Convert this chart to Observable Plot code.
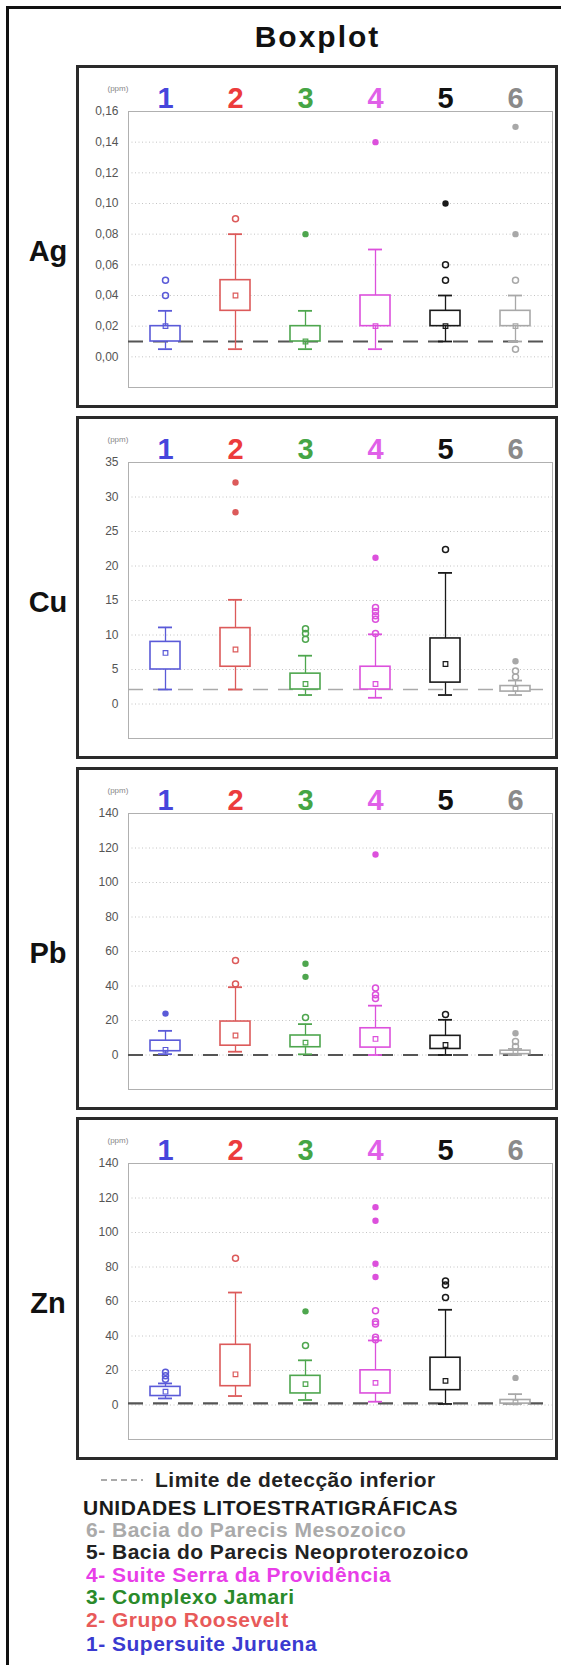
<!DOCTYPE html>
<html><head><meta charset="utf-8">
<script src="https://cdn.jsdelivr.net/npm/d3@7"></script>
<script src="https://cdn.jsdelivr.net/npm/@observablehq/plot@0.6"></script>
<style>
html,body{margin:0;padding:0;background:#fff;width:561px;height:1665px;overflow:hidden;font-family:"Liberation Sans",Arial,Helvetica,sans-serif;}
#outer{position:absolute;left:6px;top:6px;width:620px;height:1740px;border:3px solid #111;box-sizing:border-box;}
#title{position:absolute;left:77px;width:481px;top:22px;line-height:30px;text-align:center;font-size:30px;font-weight:bold;letter-spacing:2px;color:#111;}
.frame{position:absolute;left:76px;width:482px;height:343px;border:3px solid #2a2a2a;box-sizing:border-box;background:#fff;}
.frame svg{position:absolute;left:0;top:0;}
.elem{position:absolute;left:0;width:96px;text-align:center;font-size:29px;font-weight:bold;line-height:30px;color:#111;}
.leg{position:absolute;font-size:21px;font-weight:bold;line-height:22px;white-space:nowrap;letter-spacing:0.5px;}
</style></head><body>
<div id="outer"></div>
<div id="title">Boxplot</div>
<div id="panels"></div>
<div id="legend"></div>
<script>
// ---------- data ----------
const units = ["1", "2", "3", "4", "5", "6"];
const unitColors = ["#4646dc", "#ec3c3c", "#45a545", "#e060e8", "#111111", "#8a8a8a"];
const boxColors = ["#5a5ad8", "#dc5a5a", "#4ea64e", "#dc50dc", "#1a1a1a", "#a8a8a8"];
const unitNames = ["Supersuite Juruena", "Grupo Roosevelt", "Complexo Jamari", "Suite Serra da Providência", "Bacia do Parecis Neoproterozoico", "Bacia do Parecis Mesozoico"];
const legendColors = ["#3a3ad0", "#e85a5a", "#2a8a2a", "#e83ee8", "#222222", "#aaaaaa"];
const legendTitle = "UNIDADES LITOESTRATIGRÁFICAS";
const limitLabel = "Limite de detecção inferior";
const elements = ["Ag", "Cu", "Pb", "Zn"];

// Ag (ppm)
const agTicks = [0, 0.02, 0.04, 0.06, 0.08, 0.10, 0.12, 0.14, 0.16];
const agLow = [0.005, 0.005, 0.005, 0.005, 0.01, 0.01];
const agQ1 = [0.01, 0.03, 0.01, 0.02, 0.02, 0.02];
const agMed = [0.02, 0.04, 0.01, 0.02, 0.02, 0.02];
const agQ3 = [0.02, 0.05, 0.02, 0.04, 0.03, 0.03];
const agHigh = [0.03, 0.08, 0.03, 0.07, 0.04, 0.04];
const agOutliers = [[0.04, 0.05], [0.09], [], [], [0.05, 0.06], [0.05, 0.005]];
const agExtremes = [[], [], [0.08], [0.14], [0.10], [0.08, 0.15]];
const agLimit = 0.01;

// Cu (ppm)
const cuTicks = [0, 5, 10, 15, 20, 25, 30, 35];
const cuLow = [2.1, 2.1, 1.3, 0.9, 1.3, 1.3];
const cuQ1 = [5.0, 5.4, 2.1, 2.1, 3.1, 1.8];
const cuMed = [7.4, 7.9, 2.9, 2.9, 5.8, 2.2];
const cuQ3 = [9.0, 11.0, 4.4, 5.4, 9.5, 2.6];
const cuHigh = [11.1, 15.1, 7.0, 10.1, 19.0, 3.4];
const cuOutliers = [[], [], [9.4, 10.2, 10.9], [10.2, 12.3, 12.8, 13.4, 14.0], [22.4], [3.9, 4.8]];
const cuExtremes = [[], [27.8, 32.1], [], [21.2], [], [6.2]];
const cuLimit = 2.1;

// Pb (ppm)
const pbTicks = [0, 20, 40, 60, 80, 100, 120, 140];
const pbLow = [0.5, 1.9, 0.4, 0, 0, 0];
const pbQ1 = [2.2, 5.4, 4.5, 4.3, 3.5, 0.5];
const pbMed = [3.0, 11.3, 7.2, 9.3, 5.8, 1.5];
const pbQ3 = [8.3, 19.4, 11.3, 15.5, 11.1, 2.5];
const pbHigh = [14.0, 39.3, 17.9, 28.6, 20.4, 3.5];
const pbOutliers = [[], [41.2, 54.8], [21.8], [32.7, 35.0, 38.9], [23.5], [4.9, 7.8]];
const pbExtremes = [[24.0], [], [45.3, 52.9], [116.2], [], [12.6]];
const pbLimit = 0;

// Zn (ppm)
const znTicks = [0, 20, 40, 60, 80, 100, 120, 140];
const znLow = [3.8, 5.2, 2.9, 1.9, 0.6, 0.6];
const znQ1 = [5.2, 10.9, 6.7, 6.7, 8.6, 0.8];
const znMed = [7.7, 17.8, 12.1, 12.8, 14.0, 1.5];
const znQ3 = [10.5, 34.9, 16.9, 20.1, 27.4, 2.9];
const znHigh = [12.5, 65.2, 25.9, 37.4, 55.2, 6.3];
const znOutliers = [[15, 17, 19], [85.1], [34.5], [37.8, 39.3, 47.0, 48.3, 54.6], [62.3, 69.6, 71.9], []];
const znExtremes = [[], [], [54.3], [74.2, 81.9, 106.8, 114.7], [], [15.7]];
const znLimit = 1;

// ---------- panels ----------
const panelCfg = [
  {name: "Ag", top: 65, domain: [-0.02, 0.16], ticks: agTicks, fmt: d => d.toFixed(2).replace(".", ","), low: agLow, q1: agQ1, med: agMed, q3: agQ3, high: agHigh, outliers: agOutliers, extremes: agExtremes, limit: agLimit, limStroke: "#555", limWidth: 2.2},
  {name: "Cu", top: 416, domain: [-5, 35], ticks: cuTicks, fmt: d => String(d), low: cuLow, q1: cuQ1, med: cuMed, q3: cuQ3, high: cuHigh, outliers: cuOutliers, extremes: cuExtremes, limit: cuLimit, limStroke: "#aaa", limWidth: 1.5},
  {name: "Pb", top: 767, domain: [-20, 140], ticks: pbTicks, fmt: d => String(d), low: pbLow, q1: pbQ1, med: pbMed, q3: pbQ3, high: pbHigh, outliers: pbOutliers, extremes: pbExtremes, limit: pbLimit, limStroke: "#555", limWidth: 2.2},
  {name: "Zn", top: 1117, domain: [-20, 140], ticks: znTicks, fmt: d => String(d), low: znLow, q1: znQ1, med: znMed, q3: znQ3, high: znHigh, outliers: znOutliers, extremes: znExtremes, limit: znLimit, limStroke: "#555", limWidth: 2.2}
];

const FONT = '"Liberation Sans", Arial, sans-serif';

function makePanel(cfg) {
  const rows = units.map((u, i) => ({unit: u, low: cfg.low[i], q1: cfg.q1[i], med: cfg.med[i], q3: cfg.q3[i], high: cfg.high[i], c: boxColors[i]}));
  const outl = units.flatMap((u, i) => cfg.outliers[i].map(v => ({unit: u, v, c: boxColors[i]})));
  const ext = units.flatMap((u, i) => cfg.extremes[i].map(v => ({unit: u, v, c: boxColors[i]})));
  return Plot.plot({
    width: 476, height: 337,
    marginLeft: 49, marginRight: 3, marginTop: 43, marginBottom: 18,
    x: {type: "band", domain: units, padding: 0, axis: null, label: null},
    y: {domain: cfg.domain, label: null},
    color: {type: "identity"},
    style: {fontFamily: FONT, background: "transparent", overflow: "visible"},
    marks: [
      Plot.gridY(cfg.ticks, {stroke: "#c4c4c4", strokeOpacity: 1, strokeDasharray: "1,2.5"}),
      Plot.frame({stroke: "#b0b0b0"}),
      Plot.axisY(cfg.ticks, {tickSize: 0, tickPadding: 10, tickFormat: cfg.fmt, fill: "#555", fontSize: 12, label: null}),
      Plot.ruleY([cfg.limit], {stroke: cfg.limStroke, strokeWidth: cfg.limWidth, strokeDasharray: "15,10"}),
      Plot.ruleX(rows, {x: "unit", y1: "low", y2: "q1", stroke: "c", strokeWidth: 1.3}),
      Plot.ruleX(rows, {x: "unit", y1: "q3", y2: "high", stroke: "c", strokeWidth: 1.3}),
      Plot.barY(rows, {x: "unit", y1: "q1", y2: "q3", fill: "white", stroke: "c", strokeWidth: 1.6, insetLeft: 20, insetRight: 20}),
      Plot.tickY(rows, {x: "unit", y: "low", stroke: "c", strokeWidth: 1.8, insetLeft: 28, insetRight: 28}),
      Plot.tickY(rows, {x: "unit", y: "high", stroke: "c", strokeWidth: 1.8, insetLeft: 28, insetRight: 28}),
      Plot.dot(rows, {x: "unit", y: "med", symbol: "square", r: 2.6, stroke: "c", strokeWidth: 1.2, fill: "none"}),
      Plot.dot(outl, {x: "unit", y: "v", r: 3, stroke: "c", strokeWidth: 1.5, fill: "none"}),
      Plot.dot(ext, {x: "unit", y: "v", r: 3.2, fill: "c", stroke: "none"}),
      Plot.text(units, {x: d => d, text: d => d, frameAnchor: "top", dy: -4, lineAnchor: "bottom", fill: (d, i) => unitColors[i], fontSize: 29, fontWeight: "bold"}),
      Plot.text(["(ppm)"], {text: d => d, frameAnchor: "top-left", dx: -21, dy: -26, fontSize: 8, fill: "#888"})
    ]
  });
}

const panelsDiv = document.getElementById("panels");
panelCfg.forEach(cfg => {
  const f = document.createElement("div");
  f.className = "frame";
  f.style.top = cfg.top + "px";
  f.appendChild(makePanel(cfg));
  panelsDiv.appendChild(f);
  const e = document.createElement("div");
  e.className = "elem";
  e.style.top = (cfg.top + 186 - 15) + "px";
  e.textContent = cfg.name;
  panelsDiv.appendChild(e);
});

// ---------- legend ----------
const leg = document.getElementById("legend");
function legLine(text, left, cy, color) {
  const d = document.createElement("div");
  d.className = "leg";
  d.style.left = left + "px";
  d.style.top = (cy - 11) + "px";
  d.style.color = color;
  d.textContent = text;
  leg.appendChild(d);
}
const ns = "http://www.w3.org/2000/svg";
const sv = document.createElementNS(ns, "svg");
sv.setAttribute("width", 44); sv.setAttribute("height", 6);
sv.style.position = "absolute"; sv.style.left = "101px"; sv.style.top = "1477px";
const ln = document.createElementNS(ns, "line");
ln.setAttribute("x1", 0); ln.setAttribute("x2", 42); ln.setAttribute("y1", 3); ln.setAttribute("y2", 3);
ln.setAttribute("stroke", "#aaa"); ln.setAttribute("stroke-width", 2); ln.setAttribute("stroke-dasharray", "6,4");
sv.appendChild(ln); leg.appendChild(sv);
legLine(limitLabel, 155, 1480, "#222");
legLine(legendTitle, 83, 1508, "#1a1a1a");
const legY = [1644, 1620, 1597, 1575, 1552, 1530];
for (let i = 5; i >= 0; i--) {
  legLine(units[i] + "- " + unitNames[i], 86, legY[i], legendColors[i]);
}
</script>
</body></html>
